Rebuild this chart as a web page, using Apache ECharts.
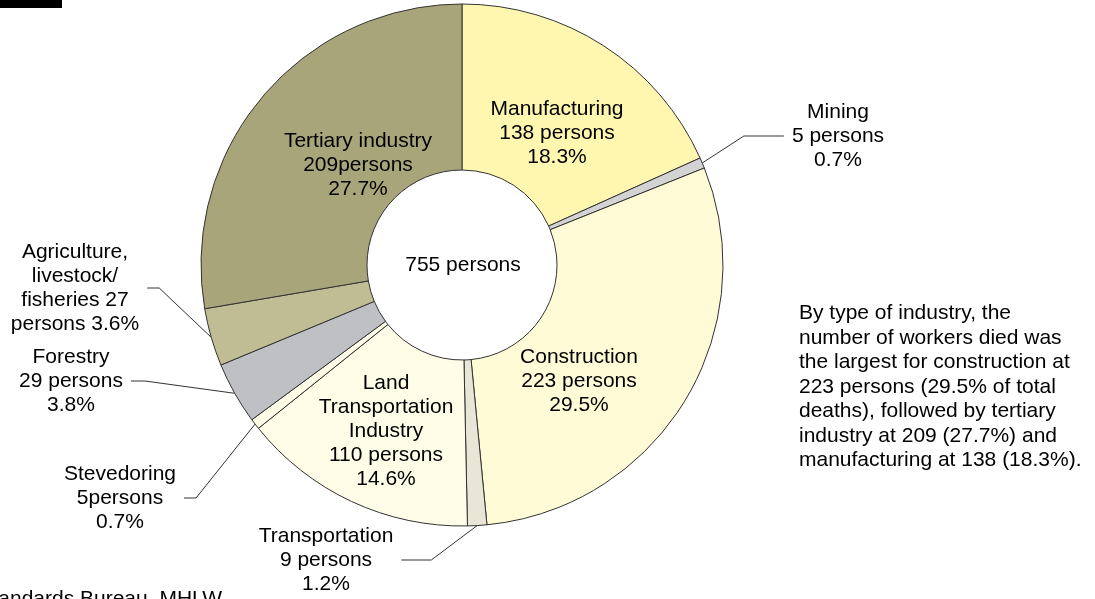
<!DOCTYPE html>
<html>
<head>
<meta charset="utf-8">
<script src="https://cdn.jsdelivr.net/npm/echarts@6/dist/echarts.min.js"></script>
<style>
  html, body { margin: 0; padding: 0; background: #ffffff; }
  #chart { width: 1095px; height: 599px; }
</style>
</head>
<body>
<div id="chart"></div>
<script>
// ---- Data ----
const categories = ['Manufacturing', 'Mining', 'Construction', 'Transportation',
  'Land Transportation Industry', 'Stevedoring', 'Forestry',
  'Agriculture, livestock/fisheries', 'Tertiary industry'];
const persons = [138, 5, 223, 9, 110, 5, 29, 27, 209];
const percents = [18.3, 0.7, 29.5, 1.2, 14.6, 0.7, 3.8, 3.6, 27.7];
const labelFormats = [
  'Manufacturing\n{n} persons\n{p}',
  'Mining\n{n} persons\n{p}',
  'Construction\n{n} persons\n{p}',
  'Transportation\n{n} persons\n{p}',
  'Land\nTransportation\nIndustry\n{n} persons\n{p}',
  'Stevedoring\n{n}persons\n{p}',
  'Forestry\n{n} persons\n{p}',
  'Agriculture,\nlivestock/\nfisheries {n}\npersons {p}',
  'Tertiary industry\n{n}persons\n{p}'
];
const noteText = 'By type of industry, the\nnumber of workers died was\nthe largest for construction at\n223 persons (29.5% of total\ndeaths), followed by tertiary\nindustry at 209 (27.7%) and\nmanufacturing at 138 (18.3%).';
const sourceText = 'Source: Labour Standards Bureau, MHLW';

// ---- Styles / layout ----
const colors = ['#FFF6B0', '#D3D3D3', '#FFFBD6', '#E8E6D6', '#FFFCE8', '#FFFCE8', '#BFC0C4', '#C0BC94', '#A8A57A'];
const outside = [false, true, false, true, false, true, true, true, false];
const lineLen2 = [0, 40, 0, 30, 0, 12, 14, 12, 0];
const labelPos = [[557, 133], [838, 136], [579, 381], [326, 560], [386, 431], [120, 498], [71, 381], [75, 288], [358, 165]];
const FONT = '"Liberation Sans", Arial, sans-serif';
const total = persons.reduce((a, b) => a + b, 0);

const data = categories.map((name, i) => ({
  name: name,
  value: persons[i],
  itemStyle: { color: colors[i] },
  label: {
    show: true,
    position: outside[i] ? 'outside' : 'inside',
    padding: outside[i] ? [0, 8] : 0,
    formatter: labelFormats[i].replace('{n}', persons[i]).replace('{p}', percents[i].toFixed(1) + '%')
  },
  labelLine: { show: outside[i], length: 20, length2: lineLen2[i], lineStyle: { color: '#333', width: 1 } }
}));

const chart = echarts.init(document.getElementById('chart'), null, { renderer: 'canvas' });
chart.setOption({
  animation: false,
  backgroundColor: '#ffffff',
  series: [{
    type: 'pie',
    center: [462, 265],
    radius: [95, 261],
    startAngle: 90,
    clockwise: true,
    avoidLabelOverlap: false,
    silent: true,
    itemStyle: { borderColor: '#333', borderWidth: 1 },
    label: {
      color: '#000',
      fontFamily: FONT,
      fontSize: 21,
      lineHeight: 24,
      align: 'center'
    },
    labelLayout: function (params) {
      const p = labelPos[params.dataIndex];
      return { x: p[0], y: p[1], align: 'center', verticalAlign: 'middle' };
    },
    emphasis: { disabled: true },
    data: data
  }],
  graphic: [
    { type: 'rect', shape: { x: 0, y: 0, width: 62, height: 8 }, style: { fill: '#000' }, silent: true },
    { type: 'text', x: 463, y: 265, silent: true,
      style: { text: total + ' persons', fill: '#000', font: '21px ' + FONT, textAlign: 'center', textVerticalAlign: 'middle' } },
    { type: 'text', x: 799, y: 301, silent: true,
      style: { text: noteText, fill: '#000', font: '21px ' + FONT, lineHeight: 24.5, textAlign: 'left', textVerticalAlign: 'top' } },
    { type: 'text', x: 222, y: 599, silent: true,
      style: { text: sourceText, fill: '#000', font: '21px ' + FONT, textAlign: 'right', textVerticalAlign: 'middle' } }
  ]
});
</script>
</body>
</html>
